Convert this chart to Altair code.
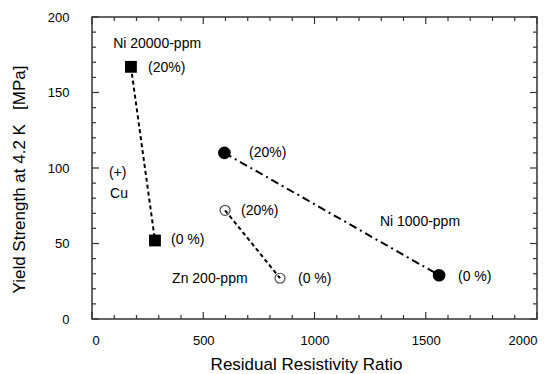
import altair as alt
import pandas as pd

# ---- data ----
ni20000_rrr = [175, 283]
ni20000_ys = [167, 52]
ni1000_rrr = [595, 1560]
ni1000_ys = [110, 29]
zn200_rrr = [598, 845]
zn200_ys = [72, 27]

label_text = ["Ni 20000-ppm", "(20%)", "(+)", "Cu", "(0 %)",
              "(20%)", "(20%)", "Zn 200-ppm", "(0 %)", "Ni 1000-ppm", "(0 %)"]
label_x = [95, 252, 76, 81, 355, 706, 670, 360, 926, 1294, 1645]
label_y = [182, 166, 97, 83, 52, 110, 71.5, 26.5, 26.5, 64, 28]

x_major = [0, 500, 1000, 1500, 2000]
x_minor = [100, 200, 300, 400, 600, 700, 800, 900, 1100, 1200, 1300, 1400,
           1600, 1700, 1800, 1900]
y_major = [0, 50, 100, 150, 200]
y_minor = [10, 20, 30, 40, 60, 70, 80, 90, 110, 120, 130, 140, 160, 170, 180, 190]

W, H = 445, 302
FONT = "Liberation Sans"

xs = alt.Scale(domain=[0, 2000], nice=False, zero=False)
ys = alt.Scale(domain=[0, 200], nice=False, zero=False)

XT = "Residual Resistivity Ratio"
YT = "Yield Strength at 4.2 K\u00a0\u00a0\u00a0[MPa]"
x_axis = alt.Axis(values=x_major, format="d", titleX=214, titleY=50,
                  titleBaseline="alphabetic")
y_axis = alt.Axis(values=y_major, format="d", titleX=-68, titleY=162, titleAngle=270,
                  titleAlign="center", titleBaseline="alphabetic")

ni20 = pd.DataFrame({"rrr": ni20000_rrr, "ys": ni20000_ys})
ni1 = pd.DataFrame({"rrr": ni1000_rrr, "ys": ni1000_ys})
zn = pd.DataFrame({"rrr": zn200_rrr, "ys": zn200_ys})
labels = pd.DataFrame({"t": label_text, "rrr": label_x, "ys": label_y})

X = lambda: alt.X("rrr:Q", scale=xs, title=XT, axis=x_axis)
Y = lambda: alt.Y("ys:Q", scale=ys, title=YT, axis=y_axis)

line_ni20 = alt.Chart(ni20).mark_line(color="black", strokeWidth=2, strokeDash=[4, 3]).encode(
    x=X(), y=Y())
line_ni1 = alt.Chart(ni1).mark_line(color="black", strokeWidth=2, strokeDash=[8, 4, 2, 4]).encode(
    x=X(), y=Y())
line_zn = alt.Chart(zn).mark_line(color="black", strokeWidth=2, strokeDash=[4, 3]).encode(
    x=X(), y=Y())

pt_ni20 = alt.Chart(ni20).mark_square(color="black", size=140, opacity=1).encode(x=X(), y=Y())
pt_ni1 = alt.Chart(ni1).mark_circle(color="black", size=160, opacity=1).encode(x=X(), y=Y())
pt_zn = alt.Chart(zn).mark_point(shape="circle", color="black", size=100, strokeWidth=1.2,
                                 filled=False).encode(x=X(), y=Y())

txt = alt.Chart(labels).mark_text(align="left", baseline="middle", font=FONT, fontSize=14,
                                  color="black").encode(x=X(), y=Y(), text="t:N")

TC = "#333"
def xticks(vals, length, top):
    df = pd.DataFrame({"rrr": vals})
    if top:
        y1, y2 = alt.value(0), alt.value(length)
    else:
        y1, y2 = alt.value(H), alt.value(H - length)
    return alt.Chart(df).mark_rule(color=TC, strokeWidth=1.2).encode(x=X(), y=y1, y2=y2)

def yticks(vals, length, right):
    df = pd.DataFrame({"ys": vals})
    if right:
        x1, x2 = alt.value(W), alt.value(W - length)
    else:
        x1, x2 = alt.value(0), alt.value(length)
    return alt.Chart(df).mark_rule(color=TC, strokeWidth=1.2).encode(y=Y(), x=x1, x2=x2)

ticks = [xticks(x_major, 7, False), xticks(x_minor, 4, False),
         xticks(x_major, 7, True), xticks(x_minor, 4, True),
         yticks(y_major, 7, False), yticks(y_minor, 4, False),
         yticks(y_major, 7, True), yticks(y_minor, 4, True)]

chart = alt.layer(
    line_ni20, *ticks, line_ni1, line_zn, pt_ni20, pt_ni1, pt_zn, txt
).properties(
    width=W, height=H,
    autosize=alt.AutoSizeParams(type="none"),
    padding={"left": 92, "top": 17, "right": 12, "bottom": 55},
    background="white",
).configure_view(
    stroke=TC, strokeWidth=1.5
).configure_axis(
    domain=False, ticks=False, grid=False,
    labelFont=FONT, labelFontSize=13, labelColor="black",
    titleFont=FONT, titleFontSize=17, titleColor="black", titleFontWeight="normal",
).configure_axisX(labelPadding=15).configure_axisY(labelPadding=23)

chart.save("out.html", embed_options={"renderer": "svg", "actions": False})
